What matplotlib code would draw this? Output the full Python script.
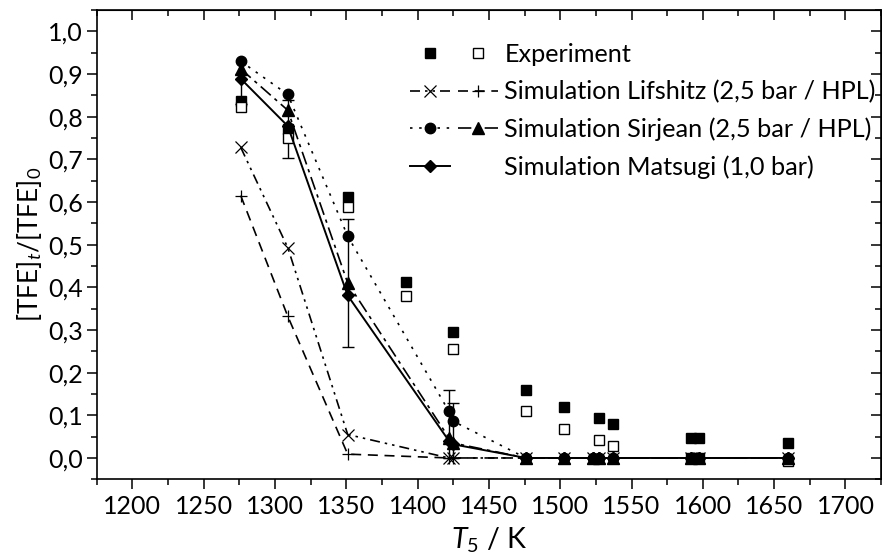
import numpy as np
import matplotlib
matplotlib.use("Agg")
import matplotlib.pyplot as plt
from matplotlib.lines import Line2D
from matplotlib.legend_handler import HandlerTuple
from matplotlib.ticker import MultipleLocator, FuncFormatter

plt.rcParams['font.family'] = ['Lato', 'DejaVu Sans']
plt.rcParams['mathtext.fontset'] = 'custom'
plt.rcParams['mathtext.rm'] = 'Lato'
plt.rcParams['mathtext.it'] = 'Lato:italic'

# experiment (two evaluations: filled / open squares)
exp_T = [1276, 1309, 1351, 1392, 1425, 1476, 1503, 1527, 1537, 1592, 1597, 1660]
exp_full = [0.837, 0.770, 0.611, 0.413, 0.296, 0.159, 0.120, 0.094, 0.080, 0.046, 0.046, 0.035]
exp_open = [0.823, 0.750, 0.588, 0.380, 0.256, 0.109, 0.069, 0.042, 0.029, 0.000, 0.000, -0.008]

# simulations
sim_T = [1276, 1309, 1351, 1422, 1425, 1476, 1503, 1523, 1527, 1537, 1592, 1597, 1660]
lif_x = [0.728, 0.493, 0.055, 0.0, 0.0, 0, 0, 0, 0, 0, 0, 0, 0]
lif_p = [0.615, 0.332, 0.009, 0.0, 0.0, 0, 0, 0, 0, 0, 0, 0, 0]
sir_c = [0.930, 0.852, 0.520, 0.109, 0.086, 0, 0, 0, 0, 0, 0, 0, 0]
sir_t = [0.912, 0.815, 0.410, 0.047, 0.035, 0, 0, 0, 0, 0, 0, 0, 0]
mat_d = [0.889, 0.778, 0.381, 0.040, 0.032, 0, 0, 0, 0, 0, 0, 0, 0]

# error bars
err_T = [1276, 1309, 1351, 1422, 1425]
err_lo = [0.83, 0.704, 0.261, 0.0, 0.0]
err_hi = [0.90, 0.84, 0.559, 0.159, 0.130]

fig = plt.figure(figsize=(8.82, 5.57), dpi=100)
ax = fig.add_axes([0.1096, 0.1395, 0.8894, 0.8425])

err_mid = (np.array(err_lo) + np.array(err_hi)) / 2
ax.errorbar(err_T, err_mid, yerr=[err_mid - np.array(err_lo), np.array(err_hi) - err_mid],
            fmt='none', ecolor='k', elinewidth=1.0, capsize=4, capthick=1.0, zorder=2)

h_ef, = ax.plot(exp_T, exp_full, 's', color='k', ms=7.5, ls='none', zorder=3)
h_eo, = ax.plot(exp_T, exp_open, 's', mfc='white', mec='k', mew=1.0, ms=7.5, ls='none', zorder=3)

h_lx, = ax.plot(sim_T, lif_x, color='k', lw=1.2, ls=(0, (6, 3, 1.5, 3, 1.5, 3)),
                marker='x', ms=8, mew=0.9, zorder=4)
h_lp, = ax.plot(sim_T, lif_p, color='k', lw=1.2, ls=(0, (6, 4)),
                marker='+', ms=9, mew=0.9, zorder=4)
h_sc, = ax.plot(sim_T, sir_c, color='k', lw=1.2, ls=(0, (1.5, 4)),
                marker='o', ms=7.5, zorder=4)
h_st, = ax.plot(sim_T, sir_t, color='k', lw=1.2, ls=(0, (8, 3, 2, 3)),
                marker='^', ms=8, zorder=4)
h_md, = ax.plot(sim_T, mat_d, color='k', lw=1.4, ls='-',
                marker='D', ms=6.5, zorder=5)

ax.set_xlim(1175, 1725)
ax.set_ylim(-0.05, 1.05)
ax.xaxis.set_major_locator(MultipleLocator(50))
ax.xaxis.set_minor_locator(MultipleLocator(25))
ax.yaxis.set_major_locator(MultipleLocator(0.1))
ax.yaxis.set_minor_locator(MultipleLocator(0.05))
ax.yaxis.set_major_formatter(FuncFormatter(lambda v, p: ('%.1f' % v).replace('.', ',').replace('-0,0', '0,0')))
ax.set_xticks(np.arange(1200, 1701, 50))
ax.tick_params(which='major', direction='out', length=7, width=1.1, labelsize=18)
ax.tick_params(which='minor', direction='out', length=4, width=1.1)
ax.tick_params(axis='x', pad=4)
ax.tick_params(axis='y', pad=3)
for s in ax.spines.values():
    s.set_linewidth(1.2)

top = ax.secondary_xaxis('top')
top.set_xticks(np.arange(1200, 1701, 50))
top.xaxis.set_minor_locator(MultipleLocator(25))
top.tick_params(which='major', direction='in', length=7, width=1.1, labeltop=False)
top.tick_params(which='minor', direction='in', length=4, width=1.1)
right = ax.secondary_yaxis('right')
right.yaxis.set_major_locator(MultipleLocator(0.1))
right.yaxis.set_minor_locator(MultipleLocator(0.05))
right.tick_params(which='major', direction='in', length=7, width=1.1, labelright=False)
right.tick_params(which='minor', direction='in', length=4, width=1.1)

ax.set_xlabel(r'$T_5$ / K', fontsize=20.5, labelpad=6)
ax.set_ylabel(r'[TFE]$_t$/[TFE]$_0$', fontsize=19, labelpad=3)

blank = Line2D([], [], ls='none')
handles = [(h_ef, h_eo), (h_lx, h_lp), (h_sc, h_st), (h_md, blank)]
labels = ['Experiment', 'Simulation Lifshitz (2,5 bar / HPL)',
          'Simulation Sirjean (2,5 bar / HPL)', 'Simulation Matsugi (1,0 bar)']
ax.legend(handles, labels, handler_map={tuple: HandlerTuple(ndivide=None, pad=0.3)},
          loc='upper left', bbox_to_anchor=(0.399, 0.929), frameon=False,
          fontsize=18.2, handlelength=3.5, handletextpad=0.25, labelspacing=0.55,
          borderaxespad=0, borderpad=0)

fig.savefig('out.png', dpi=100)
